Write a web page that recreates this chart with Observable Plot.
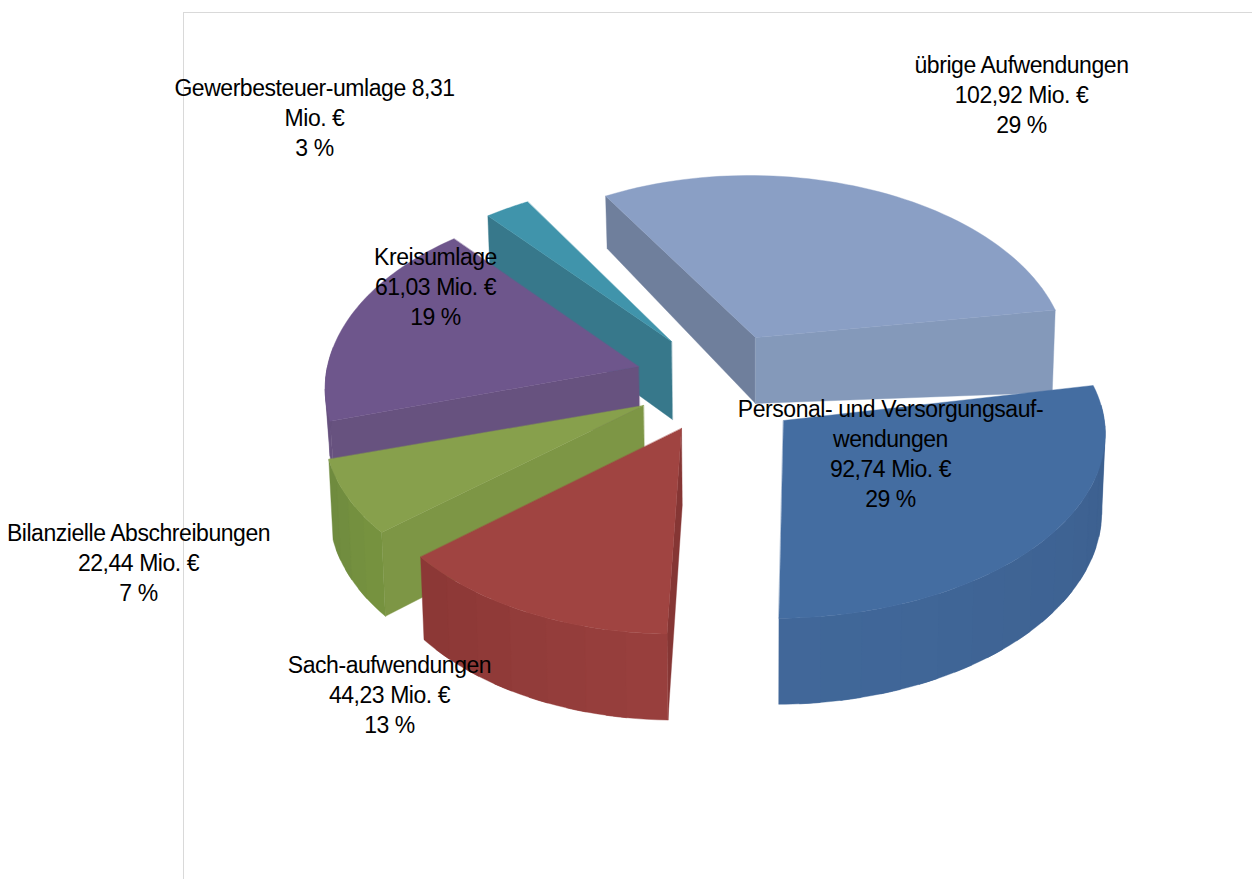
<!DOCTYPE html>
<html><head><meta charset="utf-8">
<script src="https://cdn.jsdelivr.net/npm/d3@7"></script>
<script src="https://cdn.jsdelivr.net/npm/@observablehq/plot@0.6"></script>
<style>html,body{margin:0;padding:0;background:#fff}svg{display:block}</style>
</head><body><div id="chart"></div>
<script>
// Data, clockwise from the chart's first slice
const names = ["übrige Aufwendungen","Personal- und Versorgungsauf-\nwendungen","Sach-aufwendungen","Bilanzielle Abschreibungen","Kreisumlage","Gewerbesteuer-umlage 8,31\nMio. €"];
const amounts = [102.92,92.74,44.23,22.44,61.03,8.31];
const amountLabels = ["102,92 Mio. €","92,74 Mio. €","44,23 Mio. €","22,44 Mio. €","61,03 Mio. €",""];
const percentLabels = ["29 %","29 %","13 %","7 %","19 %","3 %"];

// Styling per slice
const topColors = ["#8a9fc5","#446da1","#a04441","#87a04c","#6e568c","#4094ab"];
const startWall = ["#6f7f9c","#446da1","#853634","#7d9645","#67527f","#37788b"];
const endWall = ["#8499ba","#3f6595","#8a3735","#6c883e","#67527f","#37788b"];
const rimFrom = ["#8499ba","#3c5f8e","#983f3d","#76923f","#67527f","#37788b"];
const rimTo = ["#8499ba","#41689a","#8a3735","#6c883e","#5b4673","#37788b"];
// Exploded position and perspective of each slice on the canvas
const apexX = [755,783,681,643,638,671];
const apexY = [337,420,428,405,366,341];
const radiusX = [310,320,315,316,311,318];
const radiusY = [179,177,184,179,182,179];
const skewX = [1.5,6,4,0,-5,5];
const skewY = [3,-5,2.7,0,0,0];
const depths = [66,77,77,78,55,78];
const depthTilt = [0.06,0,0,0,0,0];
const paintOrder = [0,5,4,3,1,2];

const startAngle = 328.3, persp = 0.105, lean = 0.01, leanX = 755, vanishX = 735;
const total = d3.sum(amounts);
const rad = d => d*Math.PI/180;
function pt(i,th,r,z){
  const X=r*Math.sin(rad(th)),Y=r*Math.cos(rad(th)),w=1/(1+persp*Y);
  let x=vanishX+(apexX[i]-vanishX+radiusX[i]*X)*w+skewX[i]*Y,y=apexY[i]-radiusY[i]*Y*w+skewY[i]*X;
  if(r===0) x=apexX[i];
  if(z){y+=(depths[i]+depthTilt[i]*(x-apexX[i]))*w;x-=(x-leanX)*lean;}
  return {x,y};
}
let cum=startAngle; const spans=amounts.map(v=>{const a=cum;cum+=v/total*360;return [a,cum];});
const polys=[]; let id=0;
function poly(points,color){const z=id++;points.forEach(p=>polys.push({...p,z,color}));}
for(const i of paintOrder){
  const [a,b]=spans[i];
  if(Math.sin(rad(a))<0) poly([pt(i,a,0,0),pt(i,a,1,0),pt(i,a,1,1),pt(i,a,0,1)],startWall[i]);
  if(Math.sin(rad(b))>0) poly([pt(i,b,0,0),pt(i,b,1,0),pt(i,b,1,1),pt(i,b,0,1)],endWall[i]);
  // outer rim in bands, only the part that faces the viewer
  const step=7,n=Math.ceil((b-a)/step),mix=d3.interpolateRgb(rimFrom[i],rimTo[i]);
  for(let k=0;k<n;k++){
    const t0=a+(b-a)*k/n,t1=Math.min(b,a+(b-a)*(k+1.5)/n);
    if(Math.cos(rad((t0+t1)/2))>=0.05) continue;
    const f=[],g=[];
    for(let q=0;q<=6;q++){const t=t0+(t1-t0)*q/6;f.push(pt(i,t,1,0));g.unshift(pt(i,t,1,1));}
    poly([...f,...g],d3.rgb(mix(k/n)).formatHex());
  }
  const top=[pt(i,a,0,0)];
  for(let k=0;k<=60;k++) top.push(pt(i,a+(b-a)*k/60,1,0));
  poly(top,topColors[i]);
}
const labelX=[1021,890,389,138,435,314];
const labelY=[93,452,693,561,285,116];
const labels=names.map((n,i)=>({text:[n,amountLabels[i],percentLabels[i]].filter(Boolean).join("\n"),x:labelX[i],y:labelY[i]}));

const plot=Plot.plot({
  width:1252,height:879,margin:0,
  x:{domain:[0,1252],axis:null},
  y:{domain:[879,0],axis:null},
  color:{type:"identity"},
  style:{background:"#fff",fontFamily:"'Liberation Sans',Arial,sans-serif",letterSpacing:"-0.45px"},
  marks:[
    Plot.ruleX([183],{y1:12,y2:879,stroke:"#d9d9d9"}),
    Plot.ruleY([12],{x1:183,x2:1252,stroke:"#d9d9d9"}),
    Plot.line(polys,{x:"x",y:"y",z:"z",fill:"color",stroke:"color",strokeWidth:0.4,curve:"linear-closed"}),
    Plot.text(labels,{x:"x",y:"y",text:"text",fontSize:23,lineHeight:1.3,fill:"#000",textAnchor:"middle"})
  ]
});
document.getElementById("chart").appendChild(plot);
</script></body></html>
